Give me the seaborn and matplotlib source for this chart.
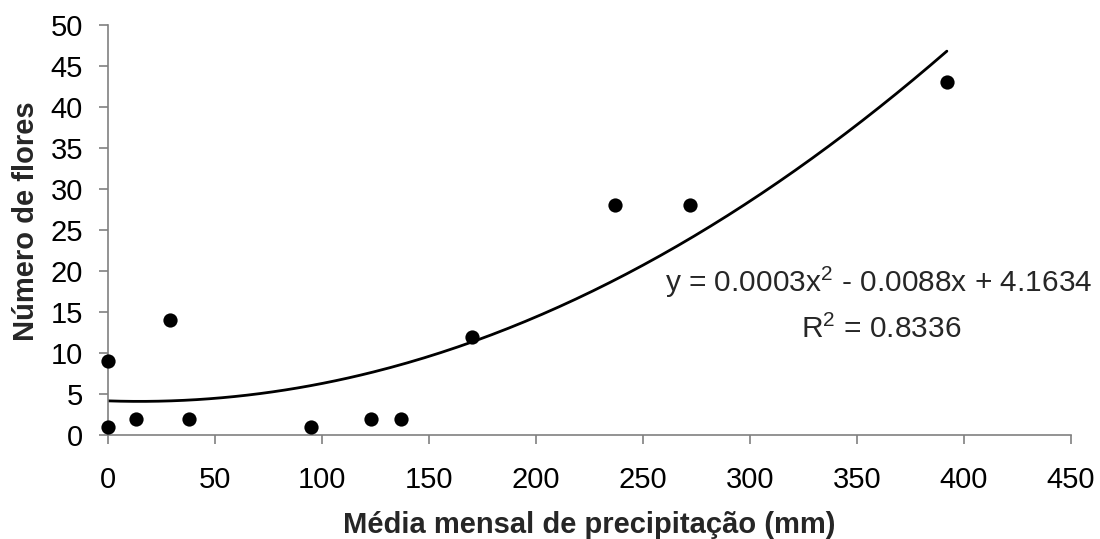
import numpy as np
import pandas as pd
import matplotlib
matplotlib.use("Agg")
import matplotlib.pyplot as plt
import seaborn as sns

# Observed points
precip = [0, 0, 13, 29, 38, 95, 123, 137, 170, 237, 272, 392]
flores = [9, 1, 2, 14, 2, 1, 2, 2, 12, 28, 28, 43]

# Polynomial trendline coefficients (order 2) and fit quality
coef_a, coef_b, coef_c = 0.0003, -0.0088, 4.1634
r_squared = 0.8336

x_ticks = [0, 50, 100, 150, 200, 250, 300, 350, 400, 450]
y_ticks = [0, 5, 10, 15, 20, 25, 30, 35, 40, 45, 50]

sns.set_theme(style="white")
plt.rcParams["font.family"] = ["Liberation Sans", "DejaVu Sans"]
plt.rcParams["mathtext.fontset"] = "custom"
plt.rcParams["mathtext.rm"] = "Liberation Sans"
plt.rcParams["mathtext.it"] = "Liberation Sans"

W, H = 1100, 539

df = pd.DataFrame({"precip": precip, "flores": flores})
xs = np.linspace(min(precip), max(precip), 200)
trend = pd.DataFrame({"precip": xs, "flores": coef_a * xs**2 + coef_b * xs + coef_c})

fig = plt.figure(figsize=(W / 100, H / 100), dpi=100)
ax = fig.add_axes([108 / W, 1 - 435 / H, 963 / W, 410 / H])

sns.lineplot(data=trend, x="precip", y="flores", color="black", linewidth=2.0, ax=ax)
sns.scatterplot(data=df, x="precip", y="flores", color="black", s=105,
                edgecolor="black", linewidth=0, ax=ax, zorder=3, clip_on=False)

ax.set_xlim(0, 450)
ax.set_ylim(0, 50)
ax.set_xticks(x_ticks)
ax.set_yticks(y_ticks)
ax.tick_params(axis="both", labelsize=21, labelcolor="black", color="#808080",
               length=6.5, width=1.2, direction="out", bottom=True, left=True)
ax.tick_params(axis="x", pad=16)
ax.tick_params(axis="y", pad=11.5)
for side in ["top", "right"]:
    ax.spines[side].set_visible(False)
for side in ["left", "bottom"]:
    ax.spines[side].set_color("#808080")
    ax.spines[side].set_linewidth(1.2)

ax.set_xlabel("Média mensal de precipitação (mm)", fontsize=21, fontweight="bold")
ax.xaxis.label.set_va("baseline")
ax.xaxis.set_label_coords(0.5, -(533 - 435) / 410)

ax.set_ylabel("Número de flores", fontsize=21, fontweight="bold")
ax.yaxis.label.set_va("center")
ax.yaxis.label.set_ha("center")
ax.yaxis.set_label_coords((26 - 108) / 963, (435 - 221) / 410)

fig.text(665 / W, 1 - 292 / H,
         "y = %.4fx$^2$ - %.4fx + %.4f" % (coef_a, -coef_b, coef_c),
         ha="left", va="baseline", fontsize=21.5)
fig.text(801 / W, 1 - 338 / H, "R$^2$ = %.4f" % r_squared,
         ha="left", va="baseline", fontsize=21.5)

fig.savefig("out.png", dpi=100)
